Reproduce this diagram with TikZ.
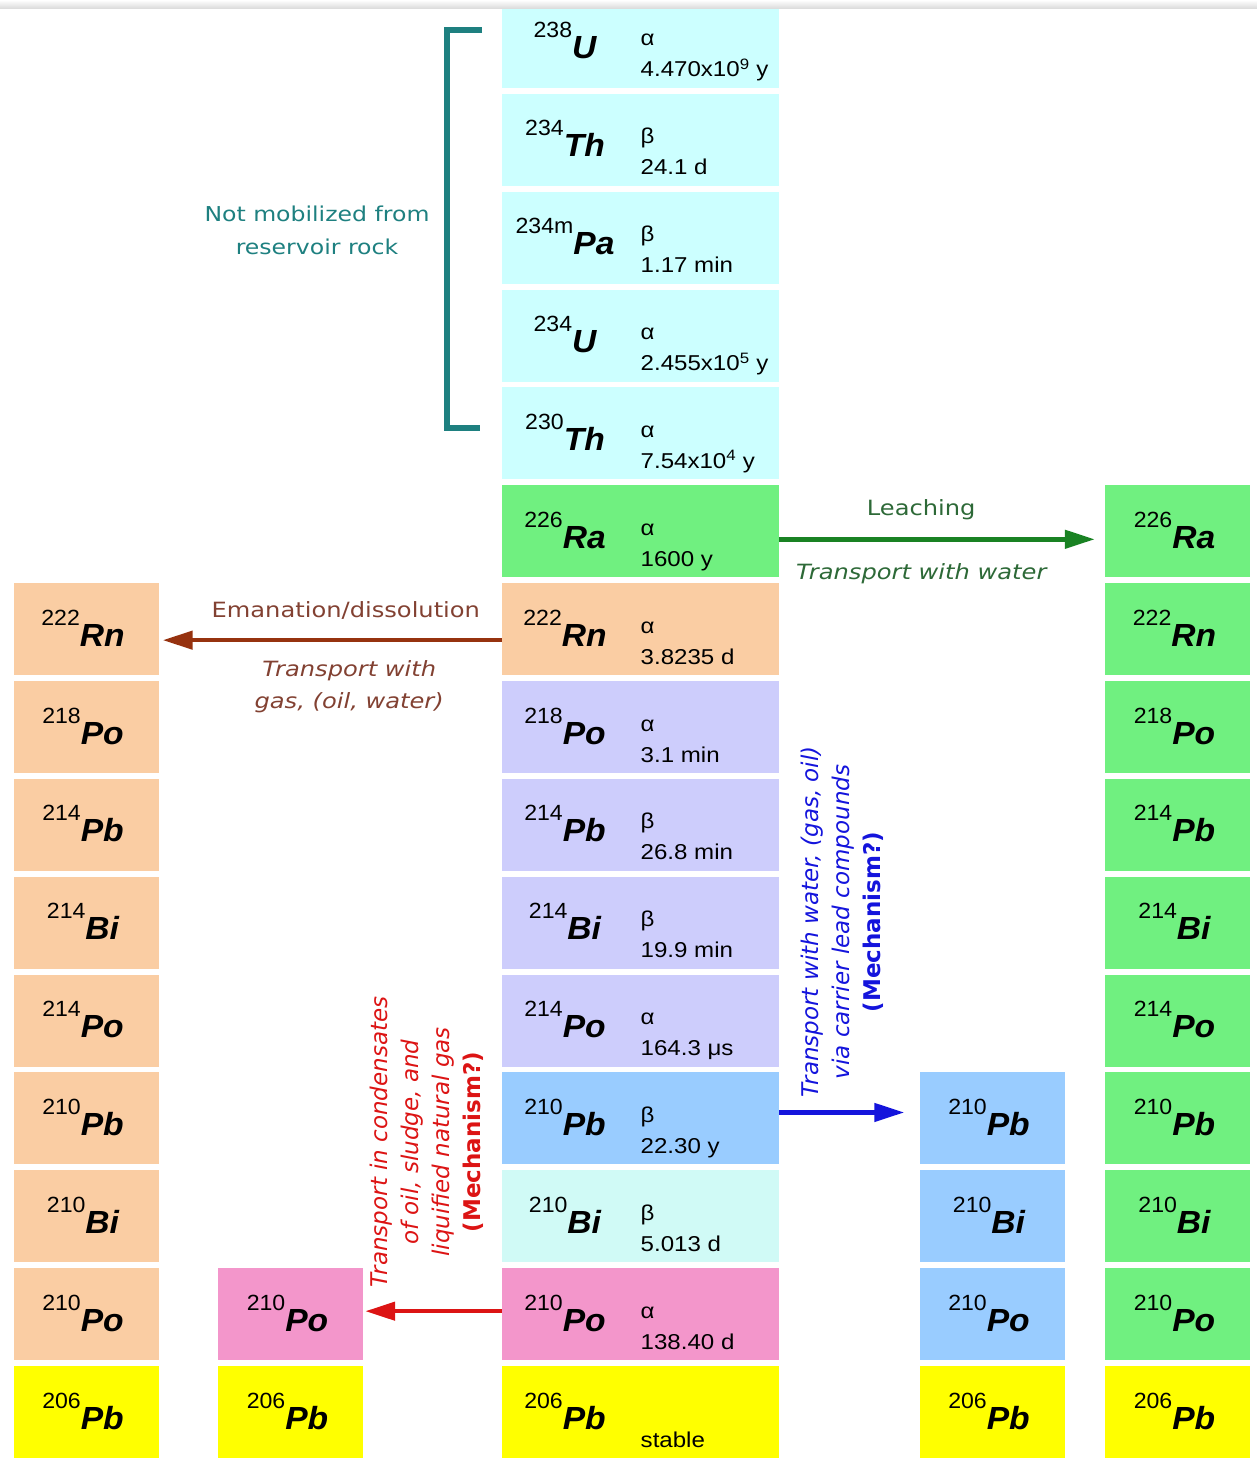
\documentclass[tikz,border=0pt]{standalone}
\usepackage{fontspec}
\setmainfont{Liberation Sans}[FakeStretch=1.12]
\newfontfamily\isofont{Liberation Sans}[FakeStretch=1.05]
\newfontfamily\labelfont{DejaVu Sans}[FakeStretch=1.15]
\newfontfamily\sidefont{DejaVu Sans}
\usetikzlibrary{arrows.meta, positioning}
\tikzset{x=1pt,y=-1pt, >={Triangle[length=30pt, width=18pt]}}

\definecolor{rockcyan}{RGB}{204,255,255}
\definecolor{radgreen}{RGB}{112,240,128}
\definecolor{gaspeach}{RGB}{250,205,163}
\definecolor{shortlav}{RGB}{205,205,252}
\definecolor{leadblue}{RGB}{153,204,255}
\definecolor{bipale}{RGB}{208,250,246}
\definecolor{popink}{RGB}{243,150,203}
\definecolor{endyellow}{RGB}{255,255,0}
\definecolor{bracketteal}{RGB}{30,128,128}
\definecolor{leachgreen}{RGB}{25,130,35}
\definecolor{leachtext}{RGB}{45,105,55}
\definecolor{gasbrown}{RGB}{150,50,15}
\definecolor{gastext}{RGB}{130,65,50}
\definecolor{waterblue}{RGB}{20,20,220}
\definecolor{oilred}{RGB}{220,20,20}

\newcommand{\nuclide}[2]{{\isofont\fontsize{22}{22}\selectfont\raisebox{21pt}{#1}}{\isofont\fontsize{32}{32}\selectfont\bfseries\itshape #2}}

\begin{document}
\begin{tikzpicture}
% Style
[
    cell/.style={rectangle, inner sep=0pt, minimum height=92pt},
    wide cell/.style={cell, minimum width=277pt},
    side cell/.style={cell, minimum width=145pt},
    iso/.style={inner sep=0pt, anchor=base},
    decay/.style={inner sep=0pt, anchor=base west, font=\fontsize{21.5}{22}\selectfont},
    route/.style={line width=4.5pt},
    route text/.style={inner sep=0pt, align=center, font=\labelfont\fontsize{21}{32}\selectfont},
    mechanism text/.style={inner sep=0pt, align=center, rotate=90, font=\sidefont\fontsize{23}{31}\selectfont}
]

%=================================== Start ===================================
{
    \useasboundingbox (0, 0) rectangle (1257, 1458);

    % Define: Main chain
    \foreach \i/\mass/\sym/\mode/\half/\tint in {
        0/238/U/α/{4.470x10\textsuperscript{9} y}/rockcyan,
        1/234/Th/β/{24.1 d}/rockcyan,
        2/234m/Pa/β/{1.17 min}/rockcyan,
        3/234/U/α/{2.455x10\textsuperscript{5} y}/rockcyan,
        4/230/Th/α/{7.54x10\textsuperscript{4} y}/rockcyan,
        5/226/Ra/α/{1600 y}/radgreen,
        6/222/Rn/α/{3.8235 d}/gaspeach,
        7/218/Po/α/{3.1 min}/shortlav,
        8/214/Pb/β/{26.8 min}/shortlav,
        9/214/Bi/β/{19.9 min}/shortlav,
        10/214/Po/α/{164.3 μs}/shortlav,
        11/210/Pb/β/{22.30 y}/leadblue,
        12/210/Bi/β/{5.013 d}/bipale,
        13/210/Po/α/{138.40 d}/popink,
        14/206/Pb//stable/endyellow} {
        \node[wide cell, fill=\tint] (main\i) at (640.5, {42+97.86*\i}) {};
        \node[iso] (main\i-iso) at ([xshift=-75.5pt, yshift=-17pt]main\i.center) {\nuclide{\mass}{\sym}};
        \node[decay] (main\i-mode) at ([yshift=-4pt]main\i.center) {\mode};
        \node[decay] (main\i-half) at ([yshift=-35pt]main\i.center) {\half};
    }

    % Define: Gas side
    \foreach \i/\mass/\sym/\tint in {6/222/Rn/gaspeach, 7/218/Po/gaspeach, 8/214/Pb/gaspeach,
        9/214/Bi/gaspeach, 10/214/Po/gaspeach, 11/210/Pb/gaspeach, 12/210/Bi/gaspeach,
        13/210/Po/gaspeach, 14/206/Pb/endyellow} {
        \node[side cell, fill=\tint] (gas\i) at (86, {42+97.86*\i}) {};
        \node[iso] (gas\i-iso) at ([xshift=-3pt, yshift=-17pt]gas\i.center) {\nuclide{\mass}{\sym}};
    }

    % Define: Condensate side
    \foreach \i/\mass/\sym/\tint in {13/210/Po/popink, 14/206/Pb/endyellow} {
        \node[side cell, fill=\tint] (oil\i) at (290.5, {42+97.86*\i}) {};
        \node[iso] (oil\i-iso) at ([xshift=-3pt, yshift=-17pt]oil\i.center) {\nuclide{\mass}{\sym}};
    }

    % Define: Lead carrier side
    \foreach \i/\mass/\sym/\tint in {11/210/Pb/leadblue, 12/210/Bi/leadblue, 13/210/Po/leadblue, 14/206/Pb/endyellow} {
        \node[side cell, fill=\tint] (pb\i) at (992, {42+97.86*\i}) {};
        \node[iso] (pb\i-iso) at ([xshift=-3pt, yshift=-17pt]pb\i.center) {\nuclide{\mass}{\sym}};
    }

    % Define: Water side
    \foreach \i/\mass/\sym/\tint in {5/226/Ra/radgreen, 6/222/Rn/radgreen, 7/218/Po/radgreen,
        8/214/Pb/radgreen, 9/214/Bi/radgreen, 10/214/Po/radgreen, 11/210/Pb/radgreen,
        12/210/Bi/radgreen, 13/210/Po/radgreen, 14/206/Pb/endyellow} {
        \node[side cell, fill=\tint] (water\i) at (1177.5, {42+97.86*\i}) {};
        \node[iso] (water\i-iso) at ([xshift=-3pt, yshift=-17pt]water\i.center) {\nuclide{\mass}{\sym}};
    }

    % Draw: Top edge
    \shade[top color=white, bottom color=gray!30] (0, 0) rectangle (1257, 9);

    % Draw: Bracket
    \draw[bracketteal, line width=6pt] (482, 30) -| (447, 428) -- (480, 428);
    \node[route text, bracketteal, font=\labelfont\fontsize{20.5}{33}\selectfont] (rocknote) at (317, 230)
        {Not mobilized from\\reservoir rock};

    % Draw: Routes
    \draw[->, route, leachgreen] ([yshift=-8pt]main5.east) --
        node[route text, pos=0.45, above=17pt, leachtext] (leachnote) {Leaching}
        node[route text, pos=0.45, below=22pt, leachtext] (waternote) {\itshape Transport with water}
        ([xshift=-10pt, yshift=-8pt]water5.west);
    \draw[->, route, gasbrown] ([yshift=-11pt]main6.west) --
        node[route text, pos=0.46, above=18pt, gastext] (gasnote) {Emanation/dissolution}
        node[route text, pos=0.45, below=18pt, gastext] (gaswaynote) {\itshape Transport with\\ \itshape gas, (oil, water)}
        ([xshift=4pt, yshift=-11pt]gas6.east);
    \draw[->, route, waterblue] ([yshift=6pt]main11.east) -- ([xshift=-15pt, yshift=6pt]pb11.west);
    \draw[->, route, oilred] ([yshift=3pt]main13.west) -- ([xshift=2pt, yshift=3pt]oil13.east);

    \node[mechanism text, waterblue] (pbnote) at (842, 922)
        {\itshape Transport with water, (gas, oil)\\ \itshape via carrier lead compounds\\ \bfseries (Mechanism?)};
    \node[mechanism text, oilred] (oilnote) at (427, 1142)
        {\itshape Transport in condensates\\ \itshape of oil, sludge, and\\ \itshape liquified natural gas\\ \bfseries (Mechanism?)};
}
%==================================== END ====================================

\end{tikzpicture}
\end{document}
